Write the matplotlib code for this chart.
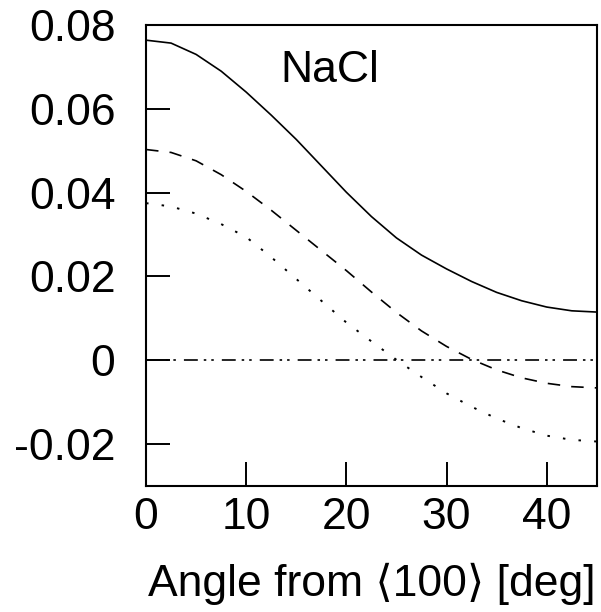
import matplotlib
matplotlib.use("Agg")
import matplotlib.pyplot as plt

plt.rcParams["font.family"] = ["Liberation Sans", "DejaVu Sans"]
plt.rcParams["lines.scale_dashes"] = False

# angle from <100> in degrees
angle = [0, 2.5, 5, 7.5, 10, 12.5, 15, 17.5, 20, 22.5, 25, 27.5, 30,
         32.5, 35, 37.5, 40, 42.5, 45]

# values
solid = [0.0764, 0.0757, 0.0730, 0.0690, 0.0640, 0.0585, 0.0527, 0.0464,
         0.0401, 0.0343, 0.0292, 0.0251, 0.0218, 0.0188, 0.0162, 0.0142,
         0.0127, 0.0118, 0.0115]
dashed = [0.0503, 0.0496, 0.0476, 0.0443, 0.0403, 0.0358, 0.0310, 0.0262,
          0.0214, 0.0163, 0.0114, 0.0070, 0.0033, 0.0002, -0.0023, -0.0042,
          -0.0055, -0.0063, -0.0066]
dotted = [0.0375, 0.0367, 0.0350, 0.0325, 0.0294, 0.0246, 0.0194, 0.0142,
          0.0090, 0.0045, 0.0001, -0.0040, -0.0079, -0.0111, -0.0139,
          -0.0162, -0.0180, -0.0190, -0.0194]
zero = [0.0] * len(angle)

fig = plt.figure(figsize=(6.01, 6.12), dpi=100)
ax = fig.add_axes([0.243, 0.206, 0.750, 0.753])

ax.plot(angle, solid, color="black", lw=1.2)
ax.plot(angle, dashed, color="black", lw=1.2, linestyle=(0, (9, 8)))
ax.plot(angle, dotted, color="black", lw=1.4, linestyle=(0, (1.8, 9.5)))
ax.plot(angle, zero, color="black", lw=1.2,
        linestyle=(0, (10, 4.3, 1.8, 3.6, 1.8, 5.8)))

ax.set_xlim(0, 45)
ax.set_ylim(-0.03, 0.08)
ax.set_xticks([0, 10, 20, 30, 40])
ax.set_yticks([-0.02, 0, 0.02, 0.04, 0.06, 0.08])
ax.set_yticklabels(["-0.02", "0", "0.02", "0.04", "0.06", "0.08"])

ax.tick_params(direction="in", length=17, width=1.4, labelsize=32, color="black")
ax.tick_params(axis="y", pad=22)
ax.tick_params(axis="x", pad=8)
for s in ax.spines.values():
    s.set_linewidth(1.5)

ax.set_xlabel("Angle from \u27e8100\u27e9 [deg]", fontsize=32, labelpad=18)
ax.text(18.3, 0.0692, "NaCl", fontsize=32, ha="center", va="center")

fig.savefig("out.png", dpi=100)
